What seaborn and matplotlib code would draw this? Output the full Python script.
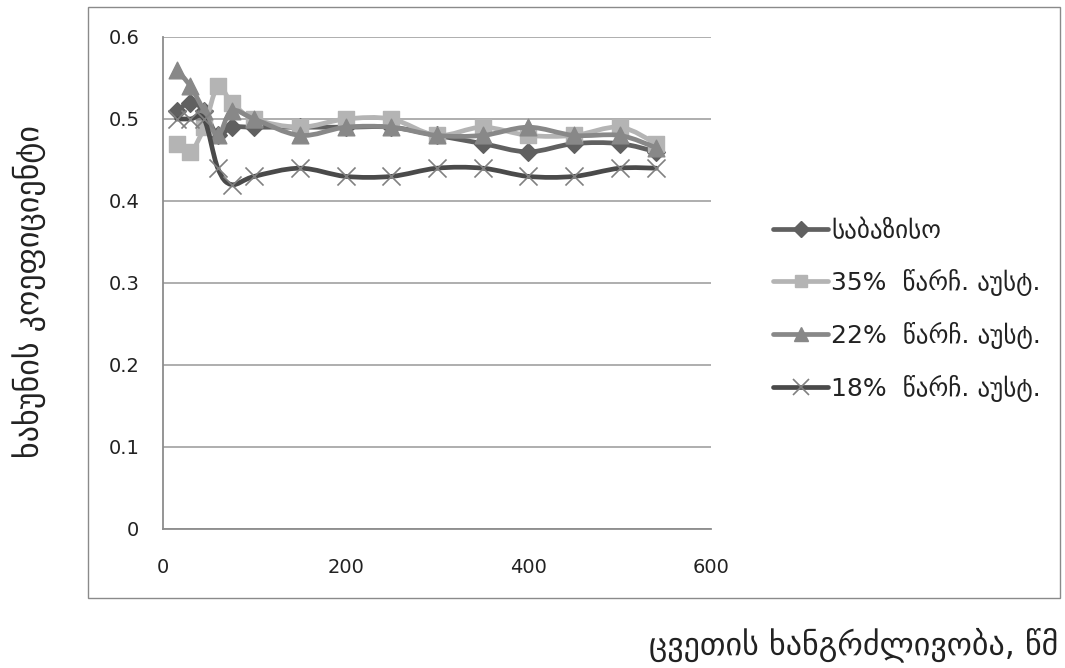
import numpy as np
import pandas as pd
import matplotlib
matplotlib.use("Agg")
import matplotlib.pyplot as plt
from matplotlib.path import Path
from matplotlib.patches import PathPatch, Rectangle
from matplotlib.lines import Line2D
import seaborn as sns

# wear duration (s) and friction coefficient per specimen series
wear_time = [15, 30, 45, 60, 75, 100, 150, 200, 250, 300, 350, 400, 450, 500, 540]
baseline = [0.51, 0.52, 0.51, 0.48, 0.49, 0.49, 0.49, 0.49, 0.49, 0.48, 0.47, 0.46, 0.47, 0.47, 0.46]
aust_35 = [0.47, 0.46, 0.49, 0.54, 0.52, 0.50, 0.49, 0.50, 0.50, 0.48, 0.49, 0.48, 0.48, 0.49, 0.47]
aust_22 = [0.56, 0.54, 0.51, 0.48, 0.51, 0.50, 0.48, 0.49, 0.49, 0.48, 0.48, 0.49, 0.48, 0.48, 0.465]
aust_18 = [0.50, 0.50, 0.50, 0.44, 0.42, 0.43, 0.44, 0.43, 0.43, 0.44, 0.44, 0.43, 0.43, 0.44, 0.44]

series_labels = ["საბაზისო", "35%  წარჩ. აუსტ.", "22%  წარჩ. აუსტ.", "18%  წარჩ. აუსტ."]
y_ticks = [0, 0.1, 0.2, 0.3, 0.4, 0.5, 0.6]
y_tick_labels = ["0", "0.1", "0.2", "0.3", "0.4", "0.5", "0.6"]
x_ticks = [0, 200, 400, 600]
x_tick_labels = ["0", "200", "400", "600"]
x_title = "ცვეთის ხანგრძლივობა, წმ"
y_title = "ხახუნის კოეფიციენტი"

styles = [
    dict(line="#606060", marker="D", mfc="#606060", mec="#606060", ms=9, mew=1.0),
    dict(line="#b4b4b4", marker="s", mfc="#b4b4b4", mec="#b4b4b4", ms=11, mew=1.0),
    dict(line="#888888", marker="^", mfc="#888888", mec="#888888", ms=12, mew=1.0),
    dict(line="#4a4a4a", marker="x", mfc="none", mec="#808080", ms=13, mew=1.2),
]

sns.set_theme(style="white")
plt.rcParams["font.family"] = ["DejaVu Sans"]


def smooth_path(x, y, t=1 / 6):
    """Catmull-Rom style cubic Bezier path through the given points."""
    pts = np.column_stack([x, y]).astype(float)
    n = len(pts)
    verts = [pts[0]]
    codes = [Path.MOVETO]
    for i in range(n - 1):
        p0 = pts[i - 1] if i > 0 else pts[i]
        p1 = pts[i]
        p2 = pts[i + 1]
        p3 = pts[i + 2] if i + 2 < n else pts[i + 1]
        verts += [p1 + (p2 - p0) * t, p2 - (p3 - p1) * t, p2]
        codes += [Path.CURVE4] * 3
    return Path(verts, codes)


fig = plt.figure(figsize=(10.65, 6.68), dpi=100)
fig.patch.set_facecolor("white")
ax = fig.add_axes([163 / 1065, 1 - 529 / 668, (711 - 163) / 1065, (529 - 37) / 668])

# outer chart border
fig.patches.append(Rectangle((88 / 1065, 1 - 598 / 668), (1060 - 88) / 1065, (598 - 7) / 668,
                             transform=fig.transFigure, fill=False, edgecolor="#8a8a8a", lw=1.0))

data = pd.DataFrame({
    "t": wear_time * 4,
    "mu": baseline + aust_35 + aust_22 + aust_18,
    "series": sum([[lab] * len(wear_time) for lab in series_labels], []),
})

handles = []
for k, (lab, st) in enumerate(zip(series_labels, styles)):
    sub = data[data["series"] == lab]
    patch = PathPatch(smooth_path(sub["t"].values, sub["mu"].values), fill=False,
                      edgecolor=st["line"], lw=3.4, capstyle="round", joinstyle="round",
                      zorder=2 + k * 0.1)
    ax.add_patch(patch)
    sns.scatterplot(data=sub, x="t", y="mu", marker=st["marker"], s=st["ms"] ** 2,
                    color=st["mfc"] if st["mfc"] != "none" else st["mec"],
                    edgecolor=st["mec"] if st["marker"] != "x" else None,
                    linewidth=st["mew"], ax=ax, zorder=2.05 + k * 0.1, legend=False)
    handles.append(Line2D([0], [0], color=st["line"], lw=3.4, marker=st["marker"],
                          markersize=st["ms"] * 0.85, markerfacecolor=st["mfc"],
                          markeredgecolor=st["mec"], markeredgewidth=st["mew"]))

ax.set_xlim(0, 600)
ax.set_ylim(0, 0.6)
ax.set_xticks(x_ticks)
ax.set_xticklabels(x_tick_labels)
ax.set_yticks(y_ticks)
ax.set_yticklabels(y_tick_labels)
ax.set_xlabel("")
ax.set_ylabel("")
ax.grid(axis="y", color="#a8a8a8", lw=1.3)
ax.grid(axis="x", visible=False)
ax.set_axisbelow(True)
for side in ["top", "right"]:
    ax.spines[side].set_visible(False)
for side in ["left", "bottom"]:
    ax.spines[side].set_color("#8c8c8c")
    ax.spines[side].set_linewidth(1.3)
ax.tick_params(axis="both", direction="out", length=6, width=1.2, color="#8c8c8c",
               labelsize=14, labelcolor="#222222")
ax.tick_params(axis="y", pad=11)
ax.tick_params(axis="x", pad=15)

fig.text(29 / 1065, 1 - 292 / 668, y_title, rotation=90, ha="center", va="center",
         fontsize=23, color="#222222")
fig.text(1058 / 1065, 1 - 645 / 668, x_title, ha="right", va="center",
         fontsize=23, color="#222222")

ax.legend(handles, series_labels, loc="upper left",
          bbox_to_anchor=(773 / 1065, 1 - 219 / 668), bbox_transform=fig.transFigure,
          frameon=False, fontsize=18, handlelength=2.2, handletextpad=0.12,
          labelspacing=1.04, borderpad=0, borderaxespad=0, labelcolor="#222222")

fig.savefig("out.png", dpi=100)
